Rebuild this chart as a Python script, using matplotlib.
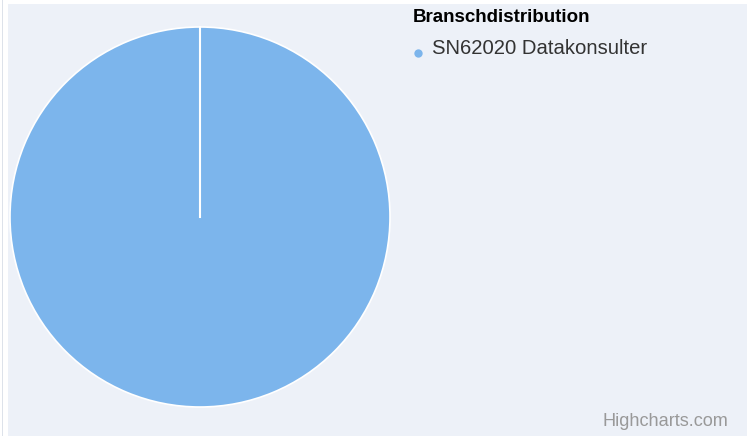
import matplotlib.pyplot as plt
from matplotlib.patches import Rectangle

plt.rcParams['font.family'] = ['Liberation Sans', 'DejaVu Sans']

legend_title = "Branschdistribution"
labels = ["SN62020 Datakonsulter"]
values = [100]
colors = ['#7cb5ec']

W, H = 747, 436
fig = plt.figure(figsize=(W / 100, H / 100), dpi=100)
ax = fig.add_axes([0, 0, 1, 1])

# background panel and thin left rule
ax.add_patch(Rectangle((8, 4), W - 8, H - 4, facecolor='#edf1f8', edgecolor='none', zorder=0))
ax.add_patch(Rectangle((2, 0), 1.2, H, facecolor='#dde2ea', edgecolor='none', zorder=0))

cx, cy, r = 200, 217, 190
ax.pie(values, colors=colors, center=(cx, cy), radius=r, startangle=90,
       counterclock=False, frame=True,
       wedgeprops=dict(edgecolor='white', linewidth=1.2))
ax.set_xlim(0, W)
ax.set_ylim(H, 0)
ax.axis('off')
# slice edge from centre to start angle
ax.plot([cx, cx], [cy, cy - r], color='white', lw=1.5, zorder=5)

ax.text(413, 17, legend_title, fontsize=13.5, fontweight='bold',
        color='black', va='center', ha='left')
for i, lab in enumerate(labels):
    y = 48 + i * 24
    ax.plot([418], [y + 5], marker='o', ms=6, color=colors[i], mec='none', zorder=6)
    ax.text(432, y, lab, fontsize=14.6, color='#333333', va='center', ha='left')

ax.text(728, 421, "Highcharts.com", fontsize=13.1, color='#999999', va='center', ha='right')

fig.savefig('out.png', dpi=100)
